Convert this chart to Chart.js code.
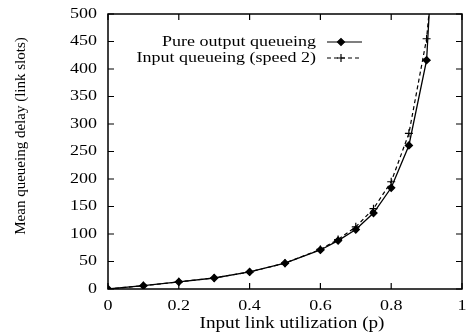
<!DOCTYPE html>
<html><head><meta charset="utf-8">
<script src="https://cdn.jsdelivr.net/npm/chart.js@4"></script>
<style>html,body{margin:0;padding:0;background:#fff}#wrap{width:468px;height:333px}</style>
</head><body><div id="wrap"><canvas id="c" width="468" height="333"></canvas></div>
<script>
const utilization = [0, 0.1, 0.2, 0.3, 0.4, 0.5, 0.6, 0.65, 0.7, 0.75, 0.8, 0.85, 0.9, 0.95];
const pureOutput = [0, 6, 13, 20, 31, 47, 71, 88, 108, 138, 184, 261, 416, 1000];
const inputSpeed2 = [0, 6, 13, 20, 31, 47, 72, 90, 113, 146, 195, 283, 455, 800];
const xTicks = [0, 0.2, 0.4, 0.6, 0.8, 1];
const yTicks = [0, 50, 100, 150, 200, 250, 300, 350, 400, 450, 500];
const seriesNames = ['Pure output queueing', 'Input queueing (speed 2)'];
const xTitle = 'Input link utilization (p)';
const yTitle = 'Mean queueing delay (link slots)';

const FONT = "'Liberation Serif', 'Times New Roman', serif";
const SX = 1.2; // horizontal stretch of the scanned figure's text

function stretchedText(ctx, txt, x, y, align) {
  ctx.save();
  ctx.translate(x, y);
  ctx.scale(SX, 1);
  ctx.textAlign = align;
  ctx.fillText(txt, 0, 0);
  ctx.restore();
}

const decorations = {
  id: 'decorations',
  afterDatasetsDraw(chart) {
    const {ctx, chartArea: a, scales: {x, y}} = chart;
    ctx.save();
    ctx.strokeStyle = '#000';
    ctx.fillStyle = '#000';
    // inward ticks on all four sides
    ctx.lineWidth = 1.2;
    ctx.beginPath();
    xTicks.forEach(v => {
      const px = x.getPixelForValue(v);
      ctx.moveTo(px, a.bottom); ctx.lineTo(px, a.bottom - 6);
      ctx.moveTo(px, a.top); ctx.lineTo(px, a.top + 6);
    });
    yTicks.forEach(v => {
      const py = y.getPixelForValue(v);
      ctx.moveTo(a.left, py); ctx.lineTo(a.left + 6, py);
      ctx.moveTo(a.right, py); ctx.lineTo(a.right - 6, py);
    });
    ctx.stroke();
    ctx.lineWidth = 1.5;
    ctx.strokeRect(a.left, a.top, a.right - a.left, a.bottom - a.top);

    ctx.font = "15px " + FONT;
    ctx.textBaseline = 'middle';
    // tick labels
    xTicks.forEach(v => stretchedText(ctx, String(v), x.getPixelForValue(v), a.bottom + 17, 'center'));
    yTicks.forEach(v => stretchedText(ctx, String(v), a.left - 11, y.getPixelForValue(v), 'right'));
    // axis titles
    ctx.textBaseline = 'alphabetic';
    ctx.font = "16px " + FONT;
    stretchedText(ctx, xTitle, 292, 328, 'center');
    ctx.font = "15px " + FONT;
    ctx.save();
    ctx.translate(25, 136);
    ctx.rotate(-Math.PI / 2);
    ctx.textAlign = 'center';
    ctx.fillText(yTitle, 0, 0);
    ctx.restore();

    // legend
    ctx.textBaseline = 'middle';
    const ds = chart.data.datasets;
    const rows = [42, 58];
    ds.forEach((d, i) => {
      const yy = rows[i];
      stretchedText(ctx, seriesNames[i], 316, yy, 'right');
      ctx.save();
      ctx.lineWidth = 1.2;
      ctx.setLineDash(d.borderDash || []);
      ctx.beginPath(); ctx.moveTo(327, yy); ctx.lineTo(362, yy); ctx.stroke();
      ctx.restore();
      ctx.save();
      ctx.lineWidth = 1.2;
      Chart.helpers.drawPoint(ctx, {pointStyle: d.pointStyle, radius: d.pointRadius, rotation: 0, borderWidth: 1.2}, 341, yy);
      ctx.restore();
    });
    ctx.restore();
  }
};

new Chart(document.getElementById('c'), {
  type: 'line',
  data: {
    datasets: [
      {
        label: seriesNames[0],
        data: utilization.map((u, i) => ({x: u, y: pureOutput[i]})),
        borderColor: '#000', backgroundColor: '#000', borderWidth: 1.3,
        pointStyle: 'rectRot', pointRadius: 3.5, pointBorderColor: '#000', pointBackgroundColor: '#000',
        fill: false, tension: 0
      },
      {
        label: seriesNames[1],
        data: utilization.map((u, i) => ({x: u, y: inputSpeed2[i]})),
        borderColor: '#000', backgroundColor: '#000', borderWidth: 1.2, borderDash: [4, 3],
        pointStyle: 'cross', pointRadius: 4, pointBorderWidth: 1.2, pointBorderColor: '#000',
        fill: false, tension: 0
      }
    ]
  },
  options: {
    responsive: false, animation: false, devicePixelRatio: 1,
    layout: {padding: {left: 0, right: 6, top: 14, bottom: 0}},
    plugins: {legend: {display: false}, tooltip: {enabled: false}},
    scales: {
      x: {
        type: 'linear', min: 0, max: 1,
        afterBuildTicks(s) { s.ticks = xTicks.map(v => ({value: v})); },
        afterFit(s) { s.height = 44; },
        grid: {display: false, drawTicks: false},
        border: {display: false},
        ticks: {display: false}
      },
      y: {
        type: 'linear', min: 0, max: 500,
        afterBuildTicks(s) { s.ticks = yTicks.map(v => ({value: v})); },
        afterFit(s) { s.width = 108; },
        grid: {display: false, drawTicks: false},
        border: {display: false},
        ticks: {display: false}
      }
    }
  },
  plugins: [decorations]
});
</script></body></html>
